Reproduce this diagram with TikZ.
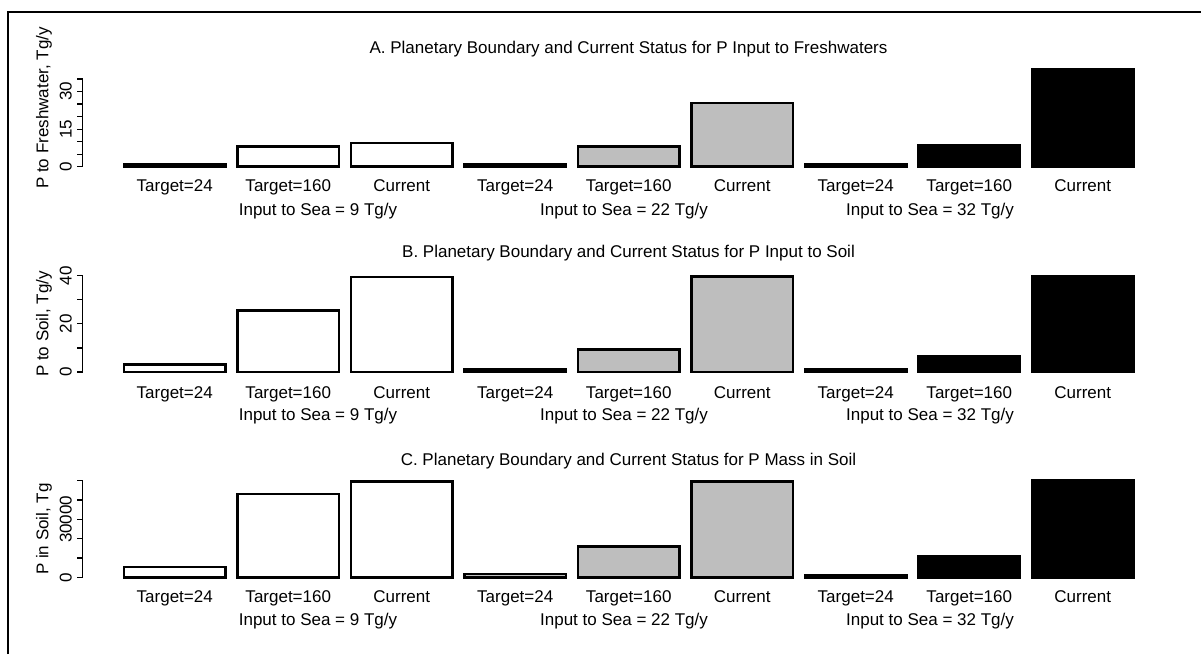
\documentclass[tikz,border=0pt]{standalone}
\usepackage{fontspec}
\setmainfont{Liberation Sans}
\definecolor{barGrey}{RGB}{190,190,190}
\begin{document}
\begin{tikzpicture}[x=1pt,y=-1pt,
  lbl/.style={font=\fontsize{17}{20}\selectfont, inner sep=0pt, anchor=base},
  ylbl/.style={lbl, rotate=90},
  barbox/.style={line width=2.7pt, draw=black},
  axisline/.style={line width=1.2pt},
  framestyle/.style={line width=2pt}]
\useasboundingbox (0,0) rectangle (1201,654);
% outer frame
\coordinate (fBL) at (8,654);
\coordinate (fTL) at (8,12);
\coordinate (fTR) at (1201,12);
\draw[framestyle] (fBL) -- (fTL) -- (fTR);

% ---------- bars ----------
% panel A (bottom 166.7)
\foreach \i/\top/\fc in {0/164.7/white,1/146.3/white,2/143/white,
                         3/164.7/barGrey,4/146.3/barGrey,5/103/barGrey,
                         6/164.7/black,7/145.7/black,8/69.7/black}
  \draw[barbox, fill=\fc] ({124+113.5*\i},166.7) rectangle ({225.5+113.5*\i},\top);
% panel B (bottom 372)
\foreach \i/\top/\fc in {0/364.7/white,1/310.3/white,2/277/white,
                         3/369.7/barGrey,4/349.7/barGrey,5/276.3/barGrey,
                         6/369.7/black,7/356.4/black,8/276.3/black}
  \draw[barbox, fill=\fc] ({124+113.5*\i},372) rectangle ({225.5+113.5*\i},\top);
% panel C (bottom 577.3)
\foreach \i/\top/\fc in {0/567/white,1/494/white,2/481.3/white,
                         3/574/barGrey,4/546.3/barGrey,5/481.3/barGrey,
                         6/575.3/black,7/556.3/black,8/480.7/black}
  \draw[barbox, fill=\fc] ({124+113.5*\i},577.3) rectangle ({225.5+113.5*\i},\top);

% ---------- category labels ----------
\foreach \p/\tb/\ib in {A/191.5/215, B/398/420.7, C/602.7/625} {
  \foreach \i/\name in {0/Target=24,1/Target=160,2/Current,
                        3/Target=24,4/Target=160,5/Current,
                        6/Target=24,7/Target=160,8/Current}
    \node[lbl] (\p-cat\i) at ({174.75+113.5*\i},\tb) {\name};
  \foreach \j/\x/\v in {0/318/9,1/624/22,2/930/32}
    \node[lbl] (\p-sea\j) at (\x,\ib) {Input to Sea = \v\ Tg/y};
}

% ---------- titles ----------
\node[lbl] (titleA) at (628.5,53.3) {A. Planetary Boundary and Current Status for P Input to Freshwaters};
\node[lbl] (titleB) at (628.5,257.5) {B. Planetary Boundary and Current Status for P Input to Soil};
\node[lbl] (titleC) at (628.5,465) {C. Planetary Boundary and Current Status for P Mass in Soil};

% ---------- y axes ----------
% A: 0..35 step 5, 12.53 px per step
\coordinate (axA0) at (82.5,166.7);
\coordinate (axA1) at (82.5,79);
\draw[axisline] (axA0) -- (axA1);
\foreach \k in {0,...,7}
  \draw[axisline] (82.5,{166.7-12.53*\k}) -- (77,{166.7-12.53*\k});
\foreach \k/\t in {0/0,3/15,6/30}
  \node[ylbl] (A-tick\k) at (71.5,{166.7-12.53*\k}) {\t};
\node[ylbl] (A-ylab) at (48.3,108) {P to Freshwater, Tg/y};

% B: 0..40 step 10, 24.08 px per step
\coordinate (axB0) at (82.5,372);
\coordinate (axB1) at (82.5,275.7);
\draw[axisline] (axB0) -- (axB1);
\foreach \k in {0,...,4}
  \draw[axisline] (82.5,{372-24.08*\k}) -- (77,{372-24.08*\k});
\foreach \k/\t in {0/0,2/20,4/40}
  \node[ylbl] (B-tick\k) at (71.5,{372-24.08*\k}) {\t};
\node[ylbl] (B-ylab) at (48.3,324) {P to Soil, Tg/y};

% C: 0..50000 step 10000, 19.32 px per step
\coordinate (axC0) at (82.5,577.3);
\coordinate (axC1) at (82.5,480.7);
\draw[axisline] (axC0) -- (axC1);
\foreach \k in {0,...,5}
  \draw[axisline] (82.5,{577.3-19.32*\k}) -- (77,{577.3-19.32*\k});
\foreach \k/\t in {0/0,3/30000}
  \node[ylbl] (C-tick\k) at (71.5,{577.3-19.32*\k}) {\t};
\node[ylbl] (C-ylab) at (48.3,529) {P in Soil, Tg};
\end{tikzpicture}
\end{document}
